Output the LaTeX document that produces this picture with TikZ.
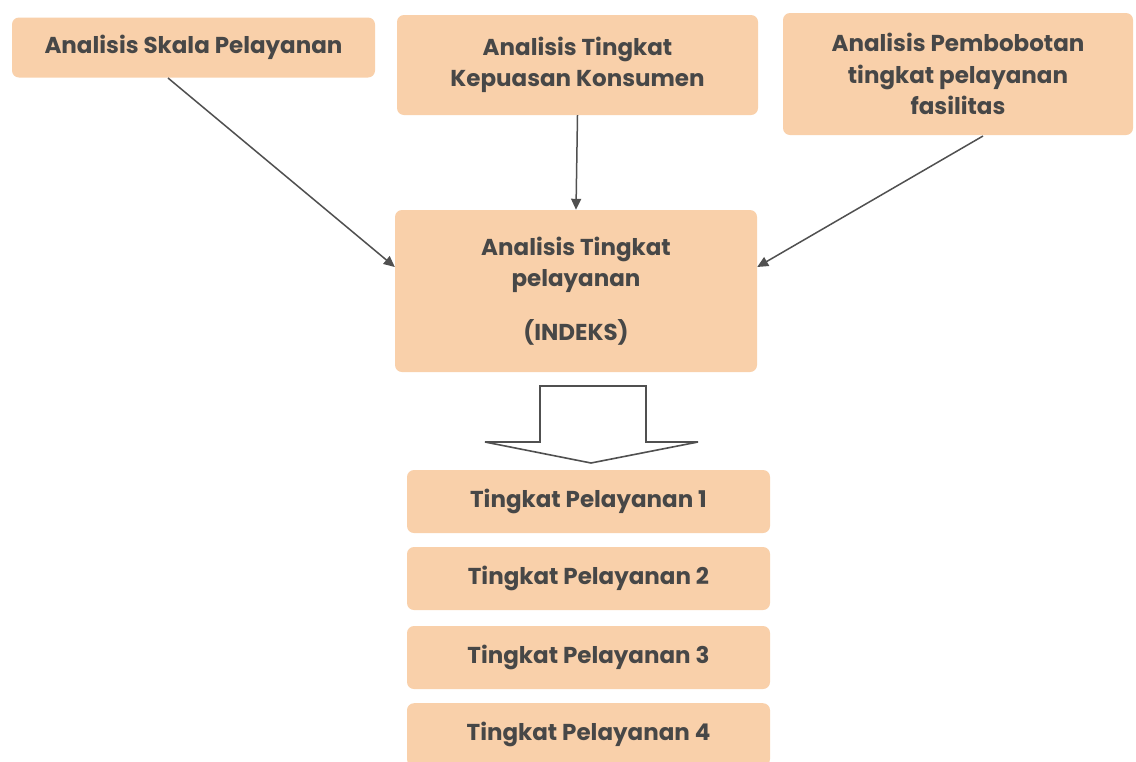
\documentclass[tikz,border=0pt]{standalone}
\usepackage{fontspec}
\setmainfont{Poppins}
\usetikzlibrary{arrows.meta}
\definecolor{peach}{HTML}{F9D0AA}
\definecolor{ink}{HTML}{474747}
\definecolor{arr}{HTML}{505050}
\begin{document}
\begin{tikzpicture}[x=1pt,y=-1pt,
  box/.style={fill=peach, rounded corners=7pt, inner sep=0pt, text=ink, align=center, font=\fontsize{23}{31.5}\selectfont\bfseries},
  conn/.style={draw=arr, line width=1.5pt, -{Triangle[length=11pt,width=10pt]}}]
\useasboundingbox (0,0) rectangle (1136,761);
\fill[white] (0,0) rectangle (1136,761);
\node[box, minimum width=363pt, minimum height=60pt] (a) at (193.5,47.5) {Analisis Skala Pelayanan};
\node[box, minimum width=361pt, minimum height=100pt] (b) at (577.5,65) {Analisis Tingkat\\Kepuasan Konsumen};
\node[box, minimum width=350pt, minimum height=122pt] (c) at (958,74) {Analisis Pembobotan\\tingkat pelayanan\\fasilitas};
\node[box, minimum width=362pt, minimum height=162pt] (m) at (576,291) {Analisis Tingkat\\pelayanan\\[0.95em](INDEKS)};
\node[box, minimum width=363pt, minimum height=63pt] (t1) at (588.5,501.5) {Tingkat Pelayanan 1};
\node[box, minimum width=363pt, minimum height=63pt] (t2) at (588.5,578.5) {Tingkat Pelayanan 2};
\node[box, minimum width=363pt, minimum height=63pt] (t3) at (588.5,657.5) {Tingkat Pelayanan 3};
\node[box, minimum width=363pt, minimum height=63pt, anchor=north] (t4) at (588.5,703) {Tingkat Pelayanan 4};
\coordinate (a1) at (168,78);
\coordinate (c1) at (983,136);
\draw[conn] (a1) -- (m.west |- 0,267);
\draw[conn] (b.south) -- (m.north);
\draw[conn] (c1) -- (m.east |- 0,267);
\draw[arr, line width=1.6pt, fill=white, line join=miter]
  (540,386) -- (646,386) -- (646,442) -- (698,442) -- (591,463) -- (485,442) -- (540,442) -- cycle;
\end{tikzpicture}
\end{document}
